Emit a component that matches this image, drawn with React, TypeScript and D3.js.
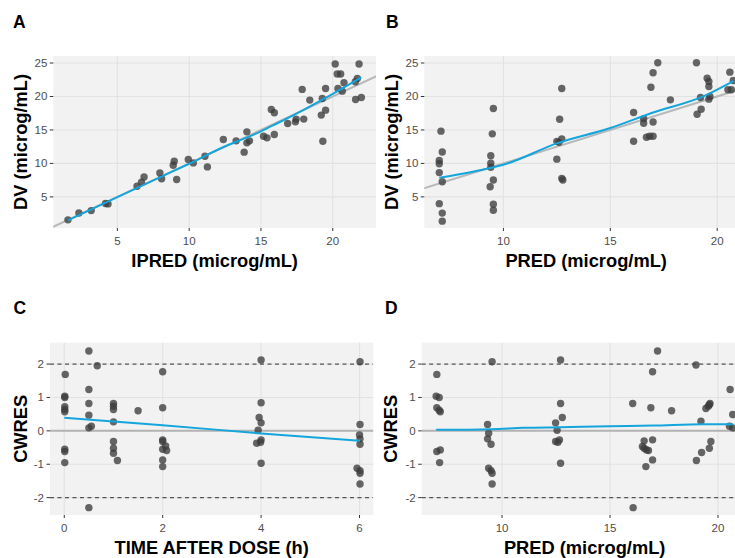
import React from "react";
import * as d3 from "d3";

// ---------- DATA ----------
const ipredA = [1.56, 2.32, 3.18, 4.18, 4.35, 6.37, 6.68, 6.86, 7.96, 8.08, 8.89, 8.96, 9.13, 9.94, 10.29, 11.1, 11.27, 12.38, 13.27, 13.83, 14.02, 14.02, 14.2, 15.18, 15.42, 15.72, 15.93, 15.93, 16.86, 17.4, 17.45, 17.98, 17.87, 18.4, 19.2, 19.27, 19.31, 19.5, 19.5, 20.17, 20.31, 20.55, 20.36, 20.66, 20.78, 21.57, 21.71, 21.59, 21.83, 21.99];
const dvA = [1.57, 2.6, 2.95, 4.0, 3.95, 6.59, 7.2, 7.98, 8.58, 7.7, 9.73, 10.33, 7.59, 10.58, 10.08, 11.08, 9.48, 13.58, 13.37, 11.68, 14.72, 13.07, 13.37, 14.07, 13.82, 18.07, 17.56, 14.33, 15.97, 16.21, 16.62, 16.62, 21.06, 19.46, 17.22, 19.71, 13.32, 17.96, 21.2, 24.85, 23.35, 23.35, 21.2, 20.8, 22.05, 22.2, 22.7, 19.56, 24.85, 19.86];

const predB = [7.08, 7.14, 7.0, 7.0, 7.0, 7.14, 7.0, 7.14, 7.14, 9.53, 9.48, 9.41, 9.41, 9.41, 9.53, 9.38, 9.53, 9.53, 12.73, 12.63, 12.5, 12.6, 12.73, 12.5, 12.73, 12.78, 16.09, 16.09, 16.56, 16.56, 16.69, 16.84, 17.0, 17.0, 16.9, 17.0, 17.22, 17.81, 19.03, 19.06, 19.25, 19.22, 19.53, 19.61, 19.61, 19.66, 19.61, 20.59, 20.5, 20.66, 20.75];
const dvB = [14.82, 11.7, 10.44, 9.94, 8.63, 7.27, 3.99, 2.58, 1.37, 18.2, 14.42, 11.15, 10.04, 9.43, 7.52, 6.51, 3.89, 3.0, 21.2, 16.6, 13.3, 13.15, 13.66, 10.64, 7.77, 7.52, 17.6, 13.31, 16.69, 16.0, 13.9, 14.07, 14.07, 16.18, 21.37, 23.54, 25.05, 19.5, 25.05, 17.34, 18.1, 19.86, 22.73, 22.23, 21.5, 20.0, 19.6, 23.64, 21.0, 21.0, 22.38];

const tadC = [0.02, 0.01, 0.01, 0.01, 0.01, 0.01, 0.01, 0.01, 0.01, 0.5, 0.5, 0.5, 0.5, 0.5, 0.55, 0.5, 0.67, 1.0, 1.0, 1.0, 1.0, 1.0, 1.0, 1.0, 1.08, 1.5, 2.0, 2.0, 2.0, 2.0, 2.0, 2.0, 2.0, 2.06, 2.08, 4.0, 4.0, 3.96, 4.0, 3.94, 3.91, 3.99, 4.0, 4.0, 6.01, 6.01, 6.0, 6.01, 6.01, 5.95, 6.01, 6.01, 6.01];
const cwresC = [1.69, 1.04, 1.0, 0.72, 0.64, 0.57, -0.55, -0.62, -0.95, 2.39, 1.24, 0.82, 0.47, 0.09, 0.14, -2.3, 1.95, 0.82, 0.74, 0.64, 0.27, -0.32, -0.52, -0.67, -0.89, 0.6, 1.77, 0.69, -0.27, -0.32, -0.55, -0.87, -1.07, -0.45, -0.59, 2.12, 0.84, 0.4, 0.24, 0.02, -0.37, -0.34, -0.27, -0.97, 2.07, 0.19, -0.12, -0.24, -0.4, -1.12, -1.19, -1.27, -1.59];

const predD = [6.98, 6.95, 7.09, 6.98, 7.09, 7.14, 6.98, 7.14, 7.11, 9.54, 9.33, 9.38, 9.33, 9.49, 9.38, 9.49, 9.54, 9.54, 12.71, 12.71, 12.79, 12.48, 12.55, 12.48, 12.59, 12.66, 12.71, 17.2, 16.05, 16.89, 17.85, 16.97, 16.07, 16.5, 16.58, 16.69, 16.78, 16.58, 16.97, 16.97, 16.66, 18.98, 19.0, 19.21, 19.24, 19.44, 19.55, 19.63, 19.6, 19.67, 19.6, 20.56, 20.68, 20.53, 20.68];
const cwresD = [1.69, 1.04, 1.0, 0.69, 0.62, 0.57, -0.62, -0.57, -0.95, 2.07, 0.19, -0.07, -0.24, -0.4, -1.12, -1.19, -1.27, -1.59, 2.12, 0.82, 0.4, 0.24, 0.02, -0.32, -0.34, -0.27, -0.97, 2.39, 0.82, 0.69, 0.6, 1.77, -2.3, -0.47, -0.52, -0.57, -0.59, -0.3, -0.27, -0.87, -1.07, 1.97, -0.89, 0.29, -0.65, 0.67, 0.74, 0.82, 0.78, -0.32, -0.52, 1.24, 0.49, 0.14, 0.09];

// smoother curves
const smoothAx = [1.56, 5, 8, 10, 12.4, 14, 15, 16, 18, 20, 21.99];
const smoothAy = [1.5, 4.95, 7.95, 9.95, 12.45, 13.85, 14.8, 15.85, 18.05, 20.4, 22.85];
const smoothBx = [7.0, 8.4, 9.5, 10, 12.5, 15, 16.9, 19.4, 20.75];
const smoothBy = [7.85, 8.65, 9.4, 9.8, 13.0, 15.3, 17.5, 20.1, 22.3];
const smoothCx = [0, 2, 4, 6.01];
const smoothCy = [0.39, 0.17, -0.08, -0.3];
const smoothDx = [6.95, 9.5, 11, 12.7, 15, 17, 19.3, 20.7];
const smoothDy = [0.03, 0.05, 0.09, 0.11, 0.14, 0.16, 0.2, 0.2];

const ticksIpred = [5, 10, 15, 20];
const ticksDV = [5, 10, 15, 20, 25];
const ticksPred = [10, 15, 20];
const ticksTime = [0, 2, 4, 6];
const ticksCwres = [-2, -1, 0, 1, 2];

// ---------- PANEL ----------
type PanelProps = {
  id: string;
  left: number; right: number; top: number; bottom: number;
  xDomain: [number, number]; yDomain: [number, number];
  xTicks: number[]; yTicks: number[];
  xs: number[]; ys: number[];
  sx: number[]; sy: number[];
  identity?: boolean;
  residual?: boolean;
  label: string; labelX: number; labelY: number;
  xTitle: string; yTitle: string; yTitleX: number;
};

const FONT = "'Liberation Sans', Arial, sans-serif";

function Panel(p: PanelProps) {
  const x = d3.scaleLinear().domain(p.xDomain).range([p.left, p.right]);
  const y = d3.scaleLinear().domain(p.yDomain).range([p.bottom, p.top]);
  const line = d3.line<[number, number]>().x(d => x(d[0])).y(d => y(d[1]));
  const smoothLine = d3.line<[number, number]>().x(d => x(d[0])).y(d => y(d[1])).curve(d3.curveMonotoneX);
  const smooth = smoothLine(p.sx.map((v, i) => [v, p.sy[i]] as [number, number])) || "";
  const w = p.right - p.left, h = p.bottom - p.top;
  const cxPlot = (p.left + p.right) / 2;
  let refPath = "";
  if (p.identity) {
    const lo = Math.min(p.xDomain[0], p.yDomain[0]) - 1;
    const hi = Math.max(p.xDomain[1], p.yDomain[1]) + 1;
    refPath = line([[lo, lo], [hi, hi]]) || "";
  }
  return (
    <g>
      <defs>
        <clipPath id={"clip" + p.id}>
          <rect x={p.left} y={p.top} width={w} height={h} />
        </clipPath>
      </defs>
      <rect x={p.left} y={p.top} width={w} height={h} fill="#F2F2F2" />
      {p.xTicks.map(t => (
        <line key={"gx" + t} x1={x(t)} x2={x(t)} y1={p.top} y2={p.bottom} stroke="#E2E2E2" strokeWidth={1.1} />
      ))}
      {p.yTicks.map(t => (
        <line key={"gy" + t} x1={p.left} x2={p.right} y1={y(t)} y2={y(t)} stroke="#E2E2E2" strokeWidth={1.1} />
      ))}
      <g clipPath={`url(#clip${p.id})`}>
        {p.identity && <path d={refPath} stroke="#B8B8B8" strokeWidth={2} fill="none" />}
        {p.residual && (
          <g>
            <line x1={p.left} x2={p.right} y1={y(0)} y2={y(0)} stroke="#B3B3B3" strokeWidth={2} />
            <line x1={p.left} x2={p.right} y1={y(2)} y2={y(2)} stroke="#555555" strokeWidth={1.3} strokeDasharray="4,3.5" />
            <line x1={p.left} x2={p.right} y1={y(-2)} y2={y(-2)} stroke="#555555" strokeWidth={1.3} strokeDasharray="4,3.5" />
          </g>
        )}
      </g>
      {p.xs.map((v, i) => (
        <circle key={"pt" + i} cx={x(v)} cy={y(p.ys[i])} r={3.7} fill="#3C3C3C" fillOpacity={0.78} />
      ))}
      <g clipPath={`url(#clip${p.id})`}>
        <path d={smooth} stroke="#14A5DC" strokeWidth={2} fill="none" />
      </g>
      {p.xTicks.map(t => (
        <g key={"tx" + t}>
          <line x1={x(t)} x2={x(t)} y1={p.bottom} y2={p.bottom + 3} stroke="#333" strokeWidth={1} />
          <text x={x(t)} y={p.bottom + 16.5} textAnchor="middle" fontFamily={FONT} fontSize={11.5} fill="#4D4D4D">{t}</text>
        </g>
      ))}
      {p.yTicks.map(t => (
        <g key={"ty" + t}>
          <line x1={p.left - 3.5} x2={p.left} y1={y(t)} y2={y(t)} stroke="#333" strokeWidth={1} />
          <text x={p.left - 6} y={y(t) + 4} textAnchor="end" fontFamily={FONT} fontSize={11.5} fill="#4D4D4D">{t}</text>
        </g>
      ))}
      <text x={cxPlot} y={p.bottom + 38.5} textAnchor="middle" fontFamily={FONT} fontSize={18.3} fontWeight="bold" fill="#000">{p.xTitle}</text>
      <text transform={`translate(${p.yTitleX},${(p.top + p.bottom) / 2}) rotate(-90)`} textAnchor="middle" fontFamily={FONT} fontSize={18.3} fontWeight="bold" fill="#000">{p.yTitle}</text>
      <text x={p.labelX} y={p.labelY} fontFamily={FONT} fontSize={17.5} fontWeight="bold" fill="#000">{p.label}</text>
    </g>
  );
}

export default function App() {
  return (
    <svg width={735} height={558} style={{ position: "absolute", left: 0, top: 0, background: "#fff" }}>
      <rect x={0} y={0} width={735} height={558} fill="#fff" />
      <Panel id="A" left={53.3} right={376} top={56} bottom={228}
        xDomain={[0.54, 23.01]} yDomain={[0.35, 26.05]}
        xTicks={ticksIpred} yTicks={ticksDV} xs={ipredA} ys={dvA}
        sx={smoothAx} sy={smoothAy} identity
        label="A" labelX={13} labelY={27.7}
        xTitle="IPRED (microg/mL)" yTitle="DV (microg/mL)" yTitleX={27} />
      <Panel id="B" left={424.3} right={748} top={56} bottom={228}
        xDomain={[6.3, 21.44]} yDomain={[0.35, 26.05]}
        xTicks={ticksPred} yTicks={ticksDV} xs={predB} ys={dvB}
        sx={smoothBx} sy={smoothBy} identity
        label="B" labelX={386} labelY={27.7}
        xTitle="PRED (microg/mL)" yTitle="DV (microg/mL)" yTitleX={398} />
      <Panel id="C" left={50} right={373.3} top={342.7} bottom={515}
        xDomain={[-0.29, 6.28]} yDomain={[-2.52, 2.64]}
        xTicks={ticksTime} yTicks={ticksCwres} xs={tadC} ys={cwresC}
        sx={smoothCx} sy={smoothCy} residual
        label="C" labelX={13.5} labelY={314}
        xTitle="TIME AFTER DOSE (h)" yTitle="CWRES" yTitleX={26.5} />
      <Panel id="D" left={421.7} right={747.6} top={342.7} bottom={515}
        xDomain={[6.28, 21.37]} yDomain={[-2.52, 2.64]}
        xTicks={ticksPred} yTicks={ticksCwres} xs={predD} ys={cwresD}
        sx={smoothDx} sy={smoothDy} residual
        label="D" labelX={385} labelY={314.3}
        xTitle="PRED (microg/mL)" yTitle="CWRES" yTitleX={397} />
    </svg>
  );
}
